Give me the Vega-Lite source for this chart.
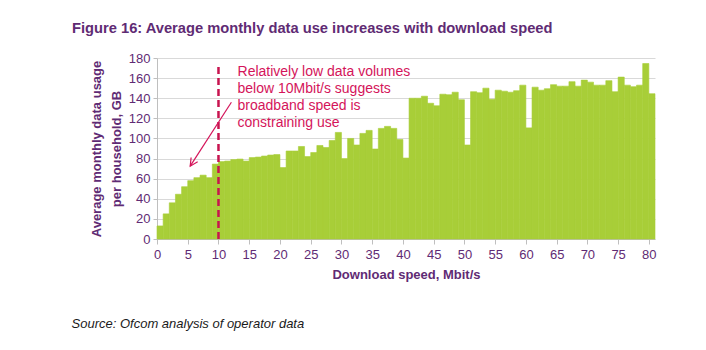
{
  "$schema": "https://vega.github.io/schema/vega-lite/v6.json",
  "width": 498,
  "height": 181,
  "autosize": {"type": "none"},
  "padding": {"left": 157, "top": 58, "right": 51, "bottom": 111},
  "background": "white",
  "config": {
    "view": {"stroke": null},
    "font": "Liberation Sans",
    "axis": {"labelOverlap": false, "labelFont": "Liberation Sans", "titleFont": "Liberation Sans"}
  },
  "title": {
    "text": "Figure 16: Average monthly data use increases with download speed",
    "anchor": "start",
    "frame": "group",
    "dx": -85,
    "dy": 9,
    "offset": 13,
    "baseline": "alphabetic",
    "fontSize": 14.7,
    "fontWeight": "bold",
    "color": "#5f2b74",
    "font": "Liberation Sans"
  },
  "layer": [
    {
      "data": {"values": [
        {"speed": 0, "speed_end": 1, "gb": 13},
        {"speed": 1, "speed_end": 2, "gb": 25},
        {"speed": 2, "speed_end": 3, "gb": 36},
        {"speed": 3, "speed_end": 4, "gb": 44.5},
        {"speed": 4, "speed_end": 5, "gb": 52},
        {"speed": 5, "speed_end": 6, "gb": 58},
        {"speed": 6, "speed_end": 7, "gb": 61},
        {"speed": 7, "speed_end": 8, "gb": 63.5},
        {"speed": 8, "speed_end": 9, "gb": 61},
        {"speed": 9, "speed_end": 10, "gb": 74.5},
        {"speed": 10, "speed_end": 11, "gb": 77},
        {"speed": 11, "speed_end": 12, "gb": 77.5},
        {"speed": 12, "speed_end": 13, "gb": 79},
        {"speed": 13, "speed_end": 14, "gb": 79.5},
        {"speed": 14, "speed_end": 15, "gb": 77.5},
        {"speed": 15, "speed_end": 16, "gb": 81},
        {"speed": 16, "speed_end": 17, "gb": 81.5},
        {"speed": 17, "speed_end": 18, "gb": 82.5},
        {"speed": 18, "speed_end": 19, "gb": 83.5},
        {"speed": 19, "speed_end": 20, "gb": 84},
        {"speed": 20, "speed_end": 21, "gb": 71},
        {"speed": 21, "speed_end": 22, "gb": 87.5},
        {"speed": 22, "speed_end": 23, "gb": 87.5},
        {"speed": 23, "speed_end": 24, "gb": 92},
        {"speed": 24, "speed_end": 25, "gb": 82},
        {"speed": 25, "speed_end": 26, "gb": 86},
        {"speed": 26, "speed_end": 27, "gb": 93},
        {"speed": 27, "speed_end": 28, "gb": 91},
        {"speed": 28, "speed_end": 29, "gb": 98},
        {"speed": 29, "speed_end": 30, "gb": 106},
        {"speed": 30, "speed_end": 31, "gb": 80},
        {"speed": 31, "speed_end": 32, "gb": 100},
        {"speed": 32, "speed_end": 33, "gb": 93.5},
        {"speed": 33, "speed_end": 34, "gb": 105},
        {"speed": 34, "speed_end": 35, "gb": 108},
        {"speed": 35, "speed_end": 36, "gb": 89.5},
        {"speed": 36, "speed_end": 37, "gb": 110},
        {"speed": 37, "speed_end": 38, "gb": 112},
        {"speed": 38, "speed_end": 39, "gb": 110},
        {"speed": 39, "speed_end": 40, "gb": 99},
        {"speed": 40, "speed_end": 41, "gb": 80.5},
        {"speed": 41, "speed_end": 42, "gb": 140},
        {"speed": 42, "speed_end": 43, "gb": 140},
        {"speed": 43, "speed_end": 44, "gb": 142},
        {"speed": 44, "speed_end": 45, "gb": 135},
        {"speed": 45, "speed_end": 46, "gb": 132.5},
        {"speed": 46, "speed_end": 47, "gb": 144},
        {"speed": 47, "speed_end": 48, "gb": 143.5},
        {"speed": 48, "speed_end": 49, "gb": 146},
        {"speed": 49, "speed_end": 50, "gb": 138.5},
        {"speed": 50, "speed_end": 51, "gb": 93.5},
        {"speed": 51, "speed_end": 52, "gb": 146.5},
        {"speed": 52, "speed_end": 53, "gb": 145.5},
        {"speed": 53, "speed_end": 54, "gb": 150},
        {"speed": 54, "speed_end": 55, "gb": 139},
        {"speed": 55, "speed_end": 56, "gb": 148},
        {"speed": 56, "speed_end": 57, "gb": 147},
        {"speed": 57, "speed_end": 58, "gb": 146},
        {"speed": 58, "speed_end": 59, "gb": 147.5},
        {"speed": 59, "speed_end": 60, "gb": 153},
        {"speed": 60, "speed_end": 61, "gb": 110.5},
        {"speed": 61, "speed_end": 62, "gb": 151},
        {"speed": 62, "speed_end": 63, "gb": 148},
        {"speed": 63, "speed_end": 64, "gb": 149.5},
        {"speed": 64, "speed_end": 65, "gb": 153.5},
        {"speed": 65, "speed_end": 66, "gb": 152},
        {"speed": 66, "speed_end": 67, "gb": 152},
        {"speed": 67, "speed_end": 68, "gb": 156.5},
        {"speed": 68, "speed_end": 69, "gb": 152},
        {"speed": 69, "speed_end": 70, "gb": 158},
        {"speed": 70, "speed_end": 71, "gb": 156},
        {"speed": 71, "speed_end": 72, "gb": 153},
        {"speed": 72, "speed_end": 73, "gb": 153},
        {"speed": 73, "speed_end": 74, "gb": 157.5},
        {"speed": 74, "speed_end": 75, "gb": 146.5},
        {"speed": 75, "speed_end": 76, "gb": 161},
        {"speed": 76, "speed_end": 77, "gb": 153},
        {"speed": 77, "speed_end": 78, "gb": 151.5},
        {"speed": 78, "speed_end": 79, "gb": 153},
        {"speed": 79, "speed_end": 80, "gb": 174.5},
        {"speed": 80, "speed_end": 81, "gb": 144.5}
      ]},
      "mark": {"type": "rect", "color": "#a8ce38", "stroke": "#a8ce38", "strokeWidth": 0.6},
      "encoding": {
        "x": {
          "field": "speed",
          "type": "quantitative",
          "scale": {"domain": [0, 81], "nice": false, "zero": false},
          "axis": {
            "values": [0, 5, 10, 15, 20, 25, 30, 35, 40, 45, 50, 55, 60, 65, 70, 75, 80],
            "grid": false,
            "domainColor": "#bfbfbf",
            "tickColor": "#bfbfbf",
            "tickSize": 5,
            "labelFontSize": 13,
            "labelColor": "#5f2b74",
            "labelPadding": 4,
            "labelFlush": false,
            "title": "Download speed, Mbit/s",
            "titleFontSize": 13,
            "titleFontWeight": "bold",
            "titleColor": "#5f2b74",
            "titlePadding": 7
          }
        },
        "x2": {"field": "speed_end"},
        "y": {
          "field": "gb",
          "type": "quantitative",
          "scale": {"domain": [0, 180], "nice": false},
          "axis": {
            "values": [0, 20, 40, 60, 80, 100, 120, 140, 160, 180],
            "grid": true,
            "gridColor": "#d9d9d9",
            "domainColor": "#bfbfbf",
            "tickColor": "#bfbfbf",
            "tickSize": 4,
            "labelFontSize": 13,
            "labelColor": "#5f2b74",
            "labelPadding": 3,
            "title": ["Average monthly data usage", "per household, GB"],
            "titleFontSize": 13,
            "titleFontWeight": "bold",
            "titleColor": "#5f2b74",
            "titleLineHeight": 20,
            "titlePadding": 5
          }
        },
        "y2": {"datum": 0}
      }
    },
    {
      "data": {"values": [{}]},
      "mark": {"type": "rule", "color": "#c8144f", "strokeWidth": 2.5, "strokeDash": [7, 4]},
      "encoding": {
        "x": {"datum": 10, "type": "quantitative",
          "axis": {
            "values": [0, 5, 10, 15, 20, 25, 30, 35, 40, 45, 50, 55, 60, 65, 70, 75, 80],
            "grid": false,
            "domainColor": "#bfbfbf",
            "tickColor": "#bfbfbf",
            "tickSize": 5,
            "labelFontSize": 13,
            "labelColor": "#5f2b74",
            "labelPadding": 4,
            "labelFlush": false,
            "title": "Download speed, Mbit/s",
            "titleFontSize": 13,
            "titleFontWeight": "bold",
            "titleColor": "#5f2b74",
            "titlePadding": 7
          }},
        "y": {"datum": 0, "type": "quantitative",
          "axis": {
            "values": [0, 20, 40, 60, 80, 100, 120, 140, 160, 180],
            "grid": true,
            "gridColor": "#d9d9d9",
            "domainColor": "#bfbfbf",
            "tickColor": "#bfbfbf",
            "tickSize": 4,
            "labelFontSize": 13,
            "labelColor": "#5f2b74",
            "labelPadding": 3,
            "title": ["Average monthly data usage", "per household, GB"],
            "titleFontSize": 13,
            "titleFontWeight": "bold",
            "titleColor": "#5f2b74",
            "titleLineHeight": 20,
            "titlePadding": 5
          }},
        "y2": {"datum": 175}
      }
    },
    {
      "data": {"values": [{}]},
      "mark": {"type": "rule", "color": "#d4145a", "strokeWidth": 1.2},
      "encoding": {
        "x": {"datum": 12.1, "type": "quantitative",
          "axis": {
            "values": [0, 5, 10, 15, 20, 25, 30, 35, 40, 45, 50, 55, 60, 65, 70, 75, 80],
            "grid": false,
            "domainColor": "#bfbfbf",
            "tickColor": "#bfbfbf",
            "tickSize": 5,
            "labelFontSize": 13,
            "labelColor": "#5f2b74",
            "labelPadding": 4,
            "labelFlush": false,
            "title": "Download speed, Mbit/s",
            "titleFontSize": 13,
            "titleFontWeight": "bold",
            "titleColor": "#5f2b74",
            "titlePadding": 7
          }},
        "y": {"datum": 136, "type": "quantitative",
          "axis": {
            "values": [0, 20, 40, 60, 80, 100, 120, 140, 160, 180],
            "grid": true,
            "gridColor": "#d9d9d9",
            "domainColor": "#bfbfbf",
            "tickColor": "#bfbfbf",
            "tickSize": 4,
            "labelFontSize": 13,
            "labelColor": "#5f2b74",
            "labelPadding": 3,
            "title": ["Average monthly data usage", "per household, GB"],
            "titleFontSize": 13,
            "titleFontWeight": "bold",
            "titleColor": "#5f2b74",
            "titleLineHeight": 20,
            "titlePadding": 5
          }},
        "x2": {"datum": 5.4},
        "y2": {"datum": 72.4}
      }
    },
    {
      "data": {"values": [{}]},
      "mark": {"type": "point", "shape": "M-0.55,1.1L0,0L0.55,1.1", "filled": false, "stroke": "#d4145a", "strokeWidth": 1.2, "size": 200, "angle": 212.6, "opacity": 1},
      "encoding": {
        "x": {"datum": 5.4, "type": "quantitative",
          "axis": {
            "values": [0, 5, 10, 15, 20, 25, 30, 35, 40, 45, 50, 55, 60, 65, 70, 75, 80],
            "grid": false,
            "domainColor": "#bfbfbf",
            "tickColor": "#bfbfbf",
            "tickSize": 5,
            "labelFontSize": 13,
            "labelColor": "#5f2b74",
            "labelPadding": 4,
            "labelFlush": false,
            "title": "Download speed, Mbit/s",
            "titleFontSize": 13,
            "titleFontWeight": "bold",
            "titleColor": "#5f2b74",
            "titlePadding": 7
          }},
        "y": {"datum": 72.4, "type": "quantitative",
          "axis": {
            "values": [0, 20, 40, 60, 80, 100, 120, 140, 160, 180],
            "grid": true,
            "gridColor": "#d9d9d9",
            "domainColor": "#bfbfbf",
            "tickColor": "#bfbfbf",
            "tickSize": 4,
            "labelFontSize": 13,
            "labelColor": "#5f2b74",
            "labelPadding": 3,
            "title": ["Average monthly data usage", "per household, GB"],
            "titleFontSize": 13,
            "titleFontWeight": "bold",
            "titleColor": "#5f2b74",
            "titleLineHeight": 20,
            "titlePadding": 5
          }}
      }
    },
    {
      "data": {"values": [{}]},
      "mark": {"type": "text", "align": "left", "baseline": "top", "fontSize": 14, "lineHeight": 17, "color": "#d4145a", "font": "Liberation Sans",
        "text": ["Relatively low data volumes", "below 10Mbit/s suggests", "broadband speed is", "constraining use"]},
      "encoding": {
        "x": {"datum": 13.1, "type": "quantitative",
          "axis": {
            "values": [0, 5, 10, 15, 20, 25, 30, 35, 40, 45, 50, 55, 60, 65, 70, 75, 80],
            "grid": false,
            "domainColor": "#bfbfbf",
            "tickColor": "#bfbfbf",
            "tickSize": 5,
            "labelFontSize": 13,
            "labelColor": "#5f2b74",
            "labelPadding": 4,
            "labelFlush": false,
            "title": "Download speed, Mbit/s",
            "titleFontSize": 13,
            "titleFontWeight": "bold",
            "titleColor": "#5f2b74",
            "titlePadding": 7
          }},
        "y": {"datum": 173.5, "type": "quantitative",
          "axis": {
            "values": [0, 20, 40, 60, 80, 100, 120, 140, 160, 180],
            "grid": true,
            "gridColor": "#d9d9d9",
            "domainColor": "#bfbfbf",
            "tickColor": "#bfbfbf",
            "tickSize": 4,
            "labelFontSize": 13,
            "labelColor": "#5f2b74",
            "labelPadding": 3,
            "title": ["Average monthly data usage", "per household, GB"],
            "titleFontSize": 13,
            "titleFontWeight": "bold",
            "titleColor": "#5f2b74",
            "titleLineHeight": 20,
            "titlePadding": 5
          }}
      }
    },
    {
      "data": {"values": [{}]},
      "mark": {"type": "text", "align": "left", "baseline": "alphabetic", "fontSize": 13, "fontStyle": "italic", "color": "#1a1a1a", "font": "Liberation Sans", "text": "Source: Ofcom analysis of operator data"},
      "encoding": {
        "x": {"datum": -13.9, "type": "quantitative",
          "axis": {
            "values": [0, 5, 10, 15, 20, 25, 30, 35, 40, 45, 50, 55, 60, 65, 70, 75, 80],
            "grid": false,
            "domainColor": "#bfbfbf",
            "tickColor": "#bfbfbf",
            "tickSize": 5,
            "labelFontSize": 13,
            "labelColor": "#5f2b74",
            "labelPadding": 4,
            "labelFlush": false,
            "title": "Download speed, Mbit/s",
            "titleFontSize": 13,
            "titleFontWeight": "bold",
            "titleColor": "#5f2b74",
            "titlePadding": 7
          }},
        "y": {"datum": -88.5, "type": "quantitative",
          "axis": {
            "values": [0, 20, 40, 60, 80, 100, 120, 140, 160, 180],
            "grid": true,
            "gridColor": "#d9d9d9",
            "domainColor": "#bfbfbf",
            "tickColor": "#bfbfbf",
            "tickSize": 4,
            "labelFontSize": 13,
            "labelColor": "#5f2b74",
            "labelPadding": 3,
            "title": ["Average monthly data usage", "per household, GB"],
            "titleFontSize": 13,
            "titleFontWeight": "bold",
            "titleColor": "#5f2b74",
            "titleLineHeight": 20,
            "titlePadding": 5
          }}
      }
    }
  ]
}
